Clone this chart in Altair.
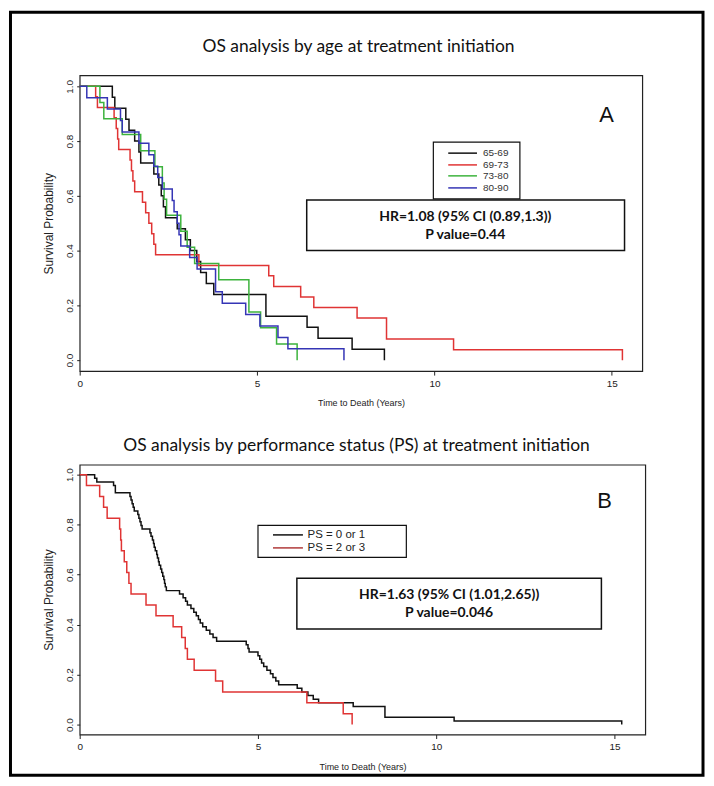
import altair as alt
import pandas as pd

# ---------------- Panel A data (OS by age group) ----------------
age_groups = ["65-69", "69-73", "73-80", "80-90"]
age_colors = ["#111111", "#E03434", "#3DB33D", "#3535B5"]

t_65_69 = [0, 0.92, 0.99, 1.30, 1.39, 1.55, 1.67, 1.72, 2.09, 2.23, 2.30, 2.36, 2.42,
           2.75, 2.98, 3.12, 3.30, 3.41, 3.57, 3.78, 5.25, 6.41, 6.72, 7.68, 8.59]
s_65_69 = [1.0, 0.96, 0.92, 0.88, 0.84, 0.80, 0.76, 0.72, 0.68, 0.64, 0.60, 0.56, 0.52,
           0.48, 0.44, 0.40, 0.36, 0.32, 0.28, 0.24, 0.16, 0.12, 0.08, 0.04, 0.0]

t_69_73 = [0, 0.45, 0.50, 0.97, 1.03, 1.07, 1.10, 1.42, 1.46, 1.50, 1.55, 1.77, 1.86,
           1.95, 2.03, 2.09, 2.14, 3.36, 5.33, 5.47, 6.23, 6.60, 7.82, 8.65, 10.54, 15.30]
s_69_73 = [1.0, 0.962, 0.923, 0.885, 0.846, 0.808, 0.769, 0.731, 0.692, 0.654, 0.615, 0.577,
           0.538, 0.500, 0.462, 0.423, 0.385, 0.346, 0.308, 0.269, 0.231, 0.192, 0.154,
           0.077, 0.038, 0.0]

t_73_80 = [0, 0.57, 0.68, 1.20, 1.72, 2.12, 2.33, 2.38, 2.45, 2.85, 3.03, 3.24, 3.92,
           4.77, 5.10, 5.55, 6.13]
s_73_80 = [1.0, 0.941, 0.882, 0.824, 0.765, 0.706, 0.647, 0.588, 0.529, 0.471, 0.412,
           0.353, 0.294, 0.176, 0.118, 0.059, 0.0]

t_80_90 = [0, 0.20, 0.78, 1.15, 1.20, 1.67, 1.95, 2.09, 2.20, 2.33, 2.61, 2.66, 2.75,
           2.80, 2.85, 3.10, 3.31, 3.83, 4.02, 4.68, 5.08, 5.59, 5.87, 7.45]
s_80_90 = [1.0, 0.958, 0.917, 0.875, 0.833, 0.792, 0.750, 0.708, 0.667, 0.625, 0.583,
           0.542, 0.500, 0.458, 0.417, 0.375, 0.333, 0.250, 0.208, 0.167, 0.125, 0.083,
           0.042, 0.0]

# ---------------- Panel B data (OS by performance status) ----------------
ps_groups = ["PS = 0 or 1", "PS = 2 or 3"]
ps_colors = ["#111111", "#B03A3A"]

t_ps01 = [0, 0.42, 0.48, 0.95, 1.00, 1.41, 1.44, 1.47, 1.50, 1.53, 1.63, 1.66, 1.69,
          1.72, 1.75, 1.97, 2.00, 2.04, 2.07, 2.09, 2.12, 2.16, 2.18, 2.21, 2.23, 2.27,
          2.30, 2.33, 2.36, 2.38, 2.40, 2.43, 2.80, 2.90, 2.97, 3.02, 3.12, 3.20, 3.27,
          3.33, 3.38, 3.45, 3.55, 3.65, 3.74, 3.84, 4.67, 4.72, 4.75, 5.00, 5.05, 5.10,
          5.16, 5.25, 5.35, 5.42, 5.50, 5.58, 6.10, 6.23, 6.40, 6.55, 6.70, 7.67, 8.56,
          10.50, 15.20]
s_ps01 = [1.0, 0.986, 0.971, 0.957, 0.928, 0.913, 0.899, 0.884, 0.870, 0.855, 0.841,
          0.826, 0.812, 0.797, 0.783, 0.768, 0.754, 0.739, 0.725, 0.710, 0.696, 0.681,
          0.667, 0.652, 0.638, 0.623, 0.609, 0.594, 0.580, 0.565, 0.551, 0.536, 0.522,
          0.507, 0.493, 0.478, 0.464, 0.449, 0.435, 0.420, 0.406, 0.391, 0.377, 0.362,
          0.348, 0.333, 0.319, 0.304, 0.290, 0.275, 0.261, 0.246, 0.232, 0.217, 0.203,
          0.188, 0.174, 0.159, 0.145, 0.130, 0.116, 0.101, 0.087, 0.072, 0.029, 0.0145,
          0.0]

t_ps23 = [0, 0.19, 0.56, 0.67, 0.77, 1.12, 1.15, 1.17, 1.25, 1.32, 1.38, 1.44, 1.86,
          2.14, 2.62, 2.86, 2.96, 3.02, 3.21, 3.81, 4.01, 6.37, 7.39, 7.64]
s_ps23 = [1.0, 0.957, 0.913, 0.870, 0.826, 0.783, 0.739, 0.696, 0.652, 0.609, 0.565,
          0.522, 0.478, 0.435, 0.391, 0.348, 0.304, 0.261, 0.217, 0.174, 0.130, 0.087,
          0.043, 0.0]

x_ticks = [0, 5, 10, 15]
y_ticks = [0.0, 0.2, 0.4, 0.6, 0.8, 1.0]

title_a = "OS analysis by age at treatment initiation"
title_b = "OS analysis by performance status (PS) at treatment initiation"
hr_a = ["HR=1.08 (95% CI (0.89,1.3))", "P value=0.44"]
hr_b = ["HR=1.63 (95% CI (1.01,2.65))", "P value=0.046"]


def km_frame(series):
    rows = []
    for name, ts, ss in series:
        for i, (t, s) in enumerate(zip(ts, ss)):
            rows.append({"t": t, "S": s, "g": name, "o": i})
    return pd.DataFrame(rows)


df_a = km_frame([("65-69", t_65_69, s_65_69), ("69-73", t_69_73, s_69_73),
                 ("73-80", t_73_80, s_73_80), ("80-90", t_80_90, s_80_90)])
df_b = km_frame([("PS = 0 or 1", t_ps01, s_ps01), ("PS = 2 or 3", t_ps23, s_ps23)])

XDOM = [0, 15.86]
YDOM = [-0.04, 1.04]
CAL = "Lato"
SANS = "Liberation Sans"

x_axis = alt.Axis(values=x_ticks, format="d", title="Time to Death (Years)", grid=False,
                  domain=False, ticks=True, tickSize=4, tickColor="#222",
                  labelFont=SANS, labelFontSize=10, labelColor="#222", labelPadding=3,
                  labelFlush=False, titleFont=SANS, titleFontSize=9,
                  titleFontWeight="normal", titleColor="#222", titlePadding=11)
y_axis = alt.Axis(values=y_ticks, format=".1f", title="Survival Probability", grid=False,
                  domain=False, ticks=True, tickSize=3, tickColor="#222",
                  labelFont=SANS, labelFontSize=10, labelColor="#222", labelAngle=270,
                  labelAlign="center", labelBaseline="bottom", labelPadding=2,
                  labelFlush=False, labelOverlap=False,
                  titleFont=SANS, titleFontSize=12, titleFontWeight="normal",
                  titleColor="#222", titlePadding=9)

ONE = pd.DataFrame({"k": [0]})


def km_lines(df, groups, colors):
    return alt.Chart(df).mark_line(interpolate="step-after", strokeWidth=1.5).encode(
        x=alt.X("t:Q", scale=alt.Scale(domain=XDOM, nice=False, zero=False), axis=x_axis),
        y=alt.Y("S:Q", scale=alt.Scale(domain=YDOM, nice=False, zero=False), axis=y_axis),
        color=alt.Color("g:N", scale=alt.Scale(domain=groups, range=colors), legend=None),
        order="o:Q",
    )


def box(x1, x2, y1, y2, width=1.5):
    return alt.Chart(ONE).mark_rect(
        fill="white", stroke="#111", strokeWidth=width).encode(
        x=alt.datum(x1), x2=alt.datum(x2), y=alt.datum(y1), y2=alt.datum(y2))


def label(x, y, txt, size, font, weight="normal", align="center", color="#111"):
    return alt.Chart(ONE).mark_text(
        text=txt, fontSize=size, font=font, fontWeight=weight, align=align,
        baseline="middle", color=color).encode(x=alt.datum(x), y=alt.datum(y))


def seg(x1, x2, y, color):
    return alt.Chart(ONE).mark_rule(color=color, strokeWidth=1.5).encode(
        x=alt.datum(x1), x2=alt.datum(x2), y=alt.datum(y))


def heading(txt, px, py):
    return alt.Chart(ONE).mark_text(
        text=txt, fontSize=17.5, font=CAL, fontWeight="normal", align="center",
        baseline="middle", color="#111").encode(x=alt.value(px), y=alt.value(py))


# ---------- panel A ----------
layers_a = [km_lines(df_a, age_groups, age_colors)]
layers_a.append(box(6.40, 15.36, 0.585, 0.400))
layers_a.append(label(10.87, 0.524, hr_a[0], 14, CAL, 700))
layers_a.append(label(10.87, 0.458, hr_a[1], 14, CAL, 700))
layers_a.append(box(9.97, 12.41, 0.796, 0.589, 1.2))
for row_y, g, c in zip([0.756, 0.713, 0.673, 0.629], age_groups, age_colors):
    layers_a.append(seg(10.39, 11.20, row_y, c))
    layers_a.append(label(11.37, row_y, g, 10, SANS, align="left", color="#333"))
layers_a.append(label(14.85, 0.895, "A", 22, SANS))
layers_a.append(heading(title_a, 280, -28))
# outer frame of the whole figure
layers_a.append(alt.Chart(ONE).mark_rect(
    fill="white", fillOpacity=0, stroke="black", strokeWidth=3).encode(
    x=alt.value(-69.5), x2=alt.value(626), y=alt.value(-63.5), y2=alt.value(703)))

panel_a = alt.layer(*layers_a).properties(width=565, height=297)

# ---------- panel B ----------
layers_b = [km_lines(df_b, ps_groups, ps_colors)]
layers_b.append(box(6.09, 14.63, 0.586, 0.382))
layers_b.append(label(10.36, 0.518, hr_b[0], 14, CAL, 700))
layers_b.append(label(10.36, 0.446, hr_b[1], 14, CAL, 700))
layers_b.append(box(5.00, 9.16, 0.797, 0.669, 1.2))
for row_y, g, c in zip([0.759, 0.707], ps_groups, ps_colors):
    layers_b.append(seg(5.42, 6.26, row_y, c))
    layers_b.append(label(6.39, row_y, g, 11.5, SANS, align="left", color="#222"))
layers_b.append(label(14.72, 0.893, "B", 22, SANS))
layers_b.append(heading(title_b, 278, -19))

panel_b = alt.layer(*layers_b).properties(width=568, height=271)

chart = alt.vconcat(panel_a, panel_b, spacing=94, bounds="flush").properties(
    padding=0, background="white"
).configure_view(stroke="#222", strokeWidth=1.2)

chart.save("out.html", embed_options={"renderer": "svg", "actions": False})
